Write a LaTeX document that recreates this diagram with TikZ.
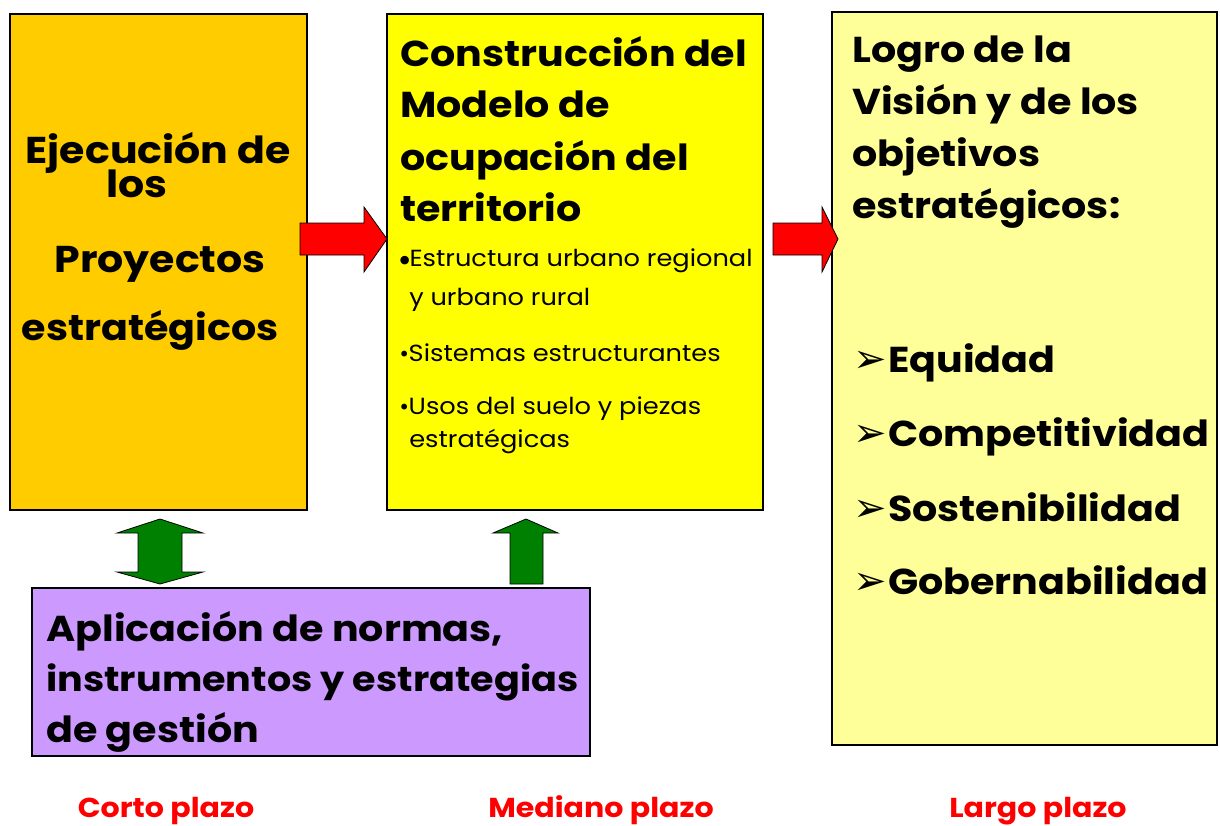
\documentclass[tikz,border=0pt]{standalone}
\usepackage{fontspec}
\setmainfont{Poppins}[FakeStretch=1.1]
\newfontfamily\symfont{DejaVu Sans}
\definecolor{boxorange}{HTML}{FFCC00}
\definecolor{boxyellow}{HTML}{FFFF00}
\definecolor{boxlight}{HTML}{FFFF99}
\definecolor{boxpurple}{HTML}{CC99FF}
\definecolor{arrred}{HTML}{FF0000}
\definecolor{arrgreen}{HTML}{008000}
\newcommand{\darrow}{{\symfont\mdseries\fontsize{30}{30}\selectfont ➢}\hspace{1pt}}
\tikzset{
  panel/.style={draw=black, line width=0.8pt, inner sep=0pt},
  bigtxt/.style={anchor=base west, inner sep=0pt, font=\fontsize{27}{30}\selectfont\bfseries},
  bigc/.style={anchor=base, inner sep=0pt, font=\fontsize{28}{30}\selectfont\bfseries},
  smalltxt/.style={anchor=base west, inner sep=0pt, font=\fontsize{17.5}{20}\selectfont},
  itemtxt/.style={anchor=base west, inner sep=0pt, font=\fontsize{27}{30}\selectfont\bfseries},
  termtxt/.style={anchor=base, inner sep=0pt, text=arrred, font=\fontsize{20.5}{22}\selectfont\bfseries},
  blockred/.style={draw=black, line width=0.6pt, fill=arrred},
  blockgreen/.style={draw=black, line width=0.6pt, fill=arrgreen},
}
\begin{document}
\begin{tikzpicture}[x=0.75pt,y=-0.75pt]
\useasboundingbox (0,0) rectangle (1220,825);
% panels
\path[panel, fill=boxorange] (10,14) rectangle (307,510);
\path[panel, fill=boxyellow] (387,14) rectangle (763,510);
\path[panel, fill=boxlight] (832,12) rectangle (1217,745);
\path[panel, fill=boxpurple] (32,588) rectangle (590,756);
% orange text
\node[bigc] (o1) at (158,163) {Ejecución de};
\node[bigc] (o2) at (137,197) {los};
\node[bigc] (o3) at (160,272) {Proyectos};
\node[bigc, font=\fontsize{27}{30}\selectfont\bfseries] (o4) at (150,340) {estratégicos};
% yellow text
\node[bigtxt] (y1) at (400,66) {Construcción del};
\node[bigtxt] (y2) at (400,117) {Modelo de};
\node[bigtxt] (y3) at (400,170) {ocupación del};
\node[bigtxt] (y4) at (400,221) {territorio};
\node[smalltxt] (b1) at (396,266) {\raisebox{-4pt}{\symfont\fontsize{22}{22}\selectfont •}\hspace{-3pt}Estructura urbano regional};
\node[smalltxt] (b2) at (409,305) {y urbano rural};
\node[smalltxt] (b3) at (398,361) {{\symfont\fontsize{15}{15}\selectfont •}\hspace{-1pt}Sistemas estructurantes};
\node[smalltxt] (b4) at (398,414) {{\symfont\fontsize{15}{15}\selectfont •}\hspace{-1pt}Usos del suelo y piezas};
\node[smalltxt] (b5) at (409,447) {estratégicas};
% right text
\node[bigtxt] (r1) at (852,62) {Logro de la};
\node[bigtxt] (r2) at (852,114) {Visión y de los};
\node[bigtxt] (r3) at (852,166) {objetivos};
\node[bigtxt] (r4) at (852,218) {estratégicos:};
\node[itemtxt] (i1) at (853,372) {\darrow Equidad};
\node[itemtxt] (i2) at (853,446) {\darrow Competitividad};
\node[itemtxt] (i3) at (853,521) {\darrow Sostenibilidad};
\node[itemtxt] (i4) at (853,594) {\darrow Gobernabilidad};
% purple text
\node[bigtxt] (p1) at (46,641) {Aplicación de normas,};
\node[bigtxt, font=\fontsize{26}{30}\selectfont\bfseries] (p2) at (46,691) {instrumentos y estrategias};
\node[bigtxt] (p3) at (46,742) {de gestión};
% bottom labels
\node[termtxt] (t1) at (166,817) {Corto plazo};
\node[termtxt] (t2) at (601,817) {Mediano plazo};
\node[termtxt] (t3) at (1038,817) {Largo plazo};
% red block arrows
\draw[blockred] (300,223) -- (364,223) -- (364,207) -- (387,239) -- (364,272) -- (364,255) -- (300,255) -- cycle;
\draw[blockred] (773,223) -- (822,223) -- (822,207) -- (838,239) -- (822,272) -- (822,255) -- (773,255) -- cycle;
% green block arrows
\draw[blockgreen] (160,519) -- (203,533) -- (182,533) -- (182,572) -- (203,572) -- (160,584) -- (117,572) -- (138,572) -- (138,533) -- (117,533) -- cycle;
\draw[blockgreen] (526,519) -- (558,533) -- (543,533) -- (543,584) -- (510,584) -- (510,533) -- (493,533) -- cycle;
\end{tikzpicture}
\end{document}
